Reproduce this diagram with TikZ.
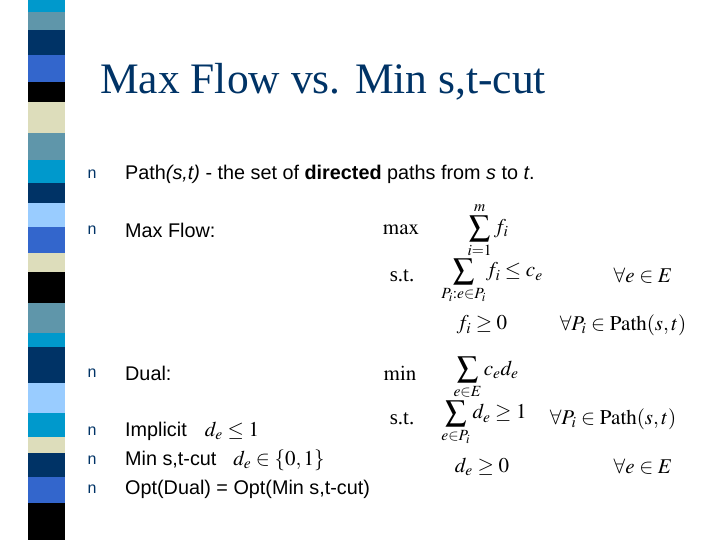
\documentclass[tikz,border=0pt]{standalone}
\usepackage{mathptmx}
\usepackage{fontspec}
\setmainfont{Liberation Sans}
\newfontfamily\ttl{Liberation Serif}
\definecolor{cy}{HTML}{0099CC}
\definecolor{st}{HTML}{5F96AA}
\definecolor{nv}{HTML}{003366}
\definecolor{rb}{HTML}{3366CC}
\definecolor{bg}{HTML}{DDDDBB}
\definecolor{lb}{HTML}{99CCFF}
\definecolor{bk}{HTML}{000000}
\begin{document}
\begin{tikzpicture}[x=1pt,y=-1pt,
  bul/.style={anchor=west,text=nv,font=\fontsize{16}{16}\selectfont},
  txt/.style={anchor=west,inner sep=0pt,font=\fontsize{19.8}{19.8}\selectfont},
  mth/.style={anchor=center,inner sep=0pt,font=\fontsize{21}{21}\selectfont}]
\useasboundingbox (0,0) rectangle (720,540);
\foreach \a/\b/\c in {0/12/cy,12/30/st,30/55/nv,55/82/rb,82/102/bk,102/133/bg,133/160/st,160/183/cy,183/203/nv,203/227/lb,227/253/rb,253/272/bg,272/303/bk,303/333/st,333/347/cy,347/383/nv,383/413/lb,413/437/cy,437/453/bg,453/477/nv,477/503/rb,503/540/bk}
  \fill[\c] (28,\a) rectangle (65,\b);
\node[anchor=west,inner sep=0pt,text=nv,font=\ttl\fontsize{43.5}{43.5}\selectfont] (title) at (100,82) {Max Flow vs. Min s,t-cut};
\foreach \y/\n in {174/b1,230/b2,373/b3,431/b4,460/b5,489/b6}
  \node[bul] (\n) at (84,\y) {n};
\node[txt] (t1) at (125,174) {Path\textit{(s,t)} - the set of \textbf{directed} paths from \textit{s} to \textit{t}.};
\node[txt] (t2) at (125,230) {Max Flow:};
\node[txt] (t3) at (125,373) {Dual:};
\node[txt] (t4) at (125,431) {Implicit};
\node[txt] (t5) at (125,460) {Min s,t-cut};
\node[txt] (t6) at (125,489) {Opt(Dual) = Opt(Min s,t-cut)};
\node[mth] (m1) at (232,431) {$d_e\le 1$};
\node[mth] (m2) at (279,460) {$d_e\in\{0,1\}$};
\node[mth] (mx) at (401,230) {$\max$};
\node[mth] (o1) at (488,230) {$\displaystyle\sum_{i=1}^{m} f_i$};
\node[mth] (st1) at (402,276) {\ttl s.t.};
\node[mth] (c1) at (492,281) {$\displaystyle\sum_{P_i:e\in P_i}\! f_i \le c_e$};
\node[mth] (q1) at (643,276) {$\forall e\in E$};
\node[mth] (c2) at (482,325) {$f_i\ge 0$};
\node[mth] (q2) at (623,325) {$\forall P_i\in \mathrm{Path}(s,t)$};
\node[mth] (mn) at (400,373) {$\min$};
\node[mth] (o2) at (486,378) {$\displaystyle\sum_{e\in E} c_e d_e$};
\node[mth] (st2) at (402,419) {\ttl s.t.};
\node[mth] (c3) at (484,423) {$\displaystyle\sum_{e\in P_i} d_e\ge 1$};
\node[mth] (q3) at (613,419) {$\forall P_i\in \mathrm{Path}(s,t)$};
\node[mth] (c4) at (482,467) {$d_e\ge 0$};
\node[mth] (q4) at (643,467) {$\forall e\in E$};
\end{tikzpicture}
\end{document}
